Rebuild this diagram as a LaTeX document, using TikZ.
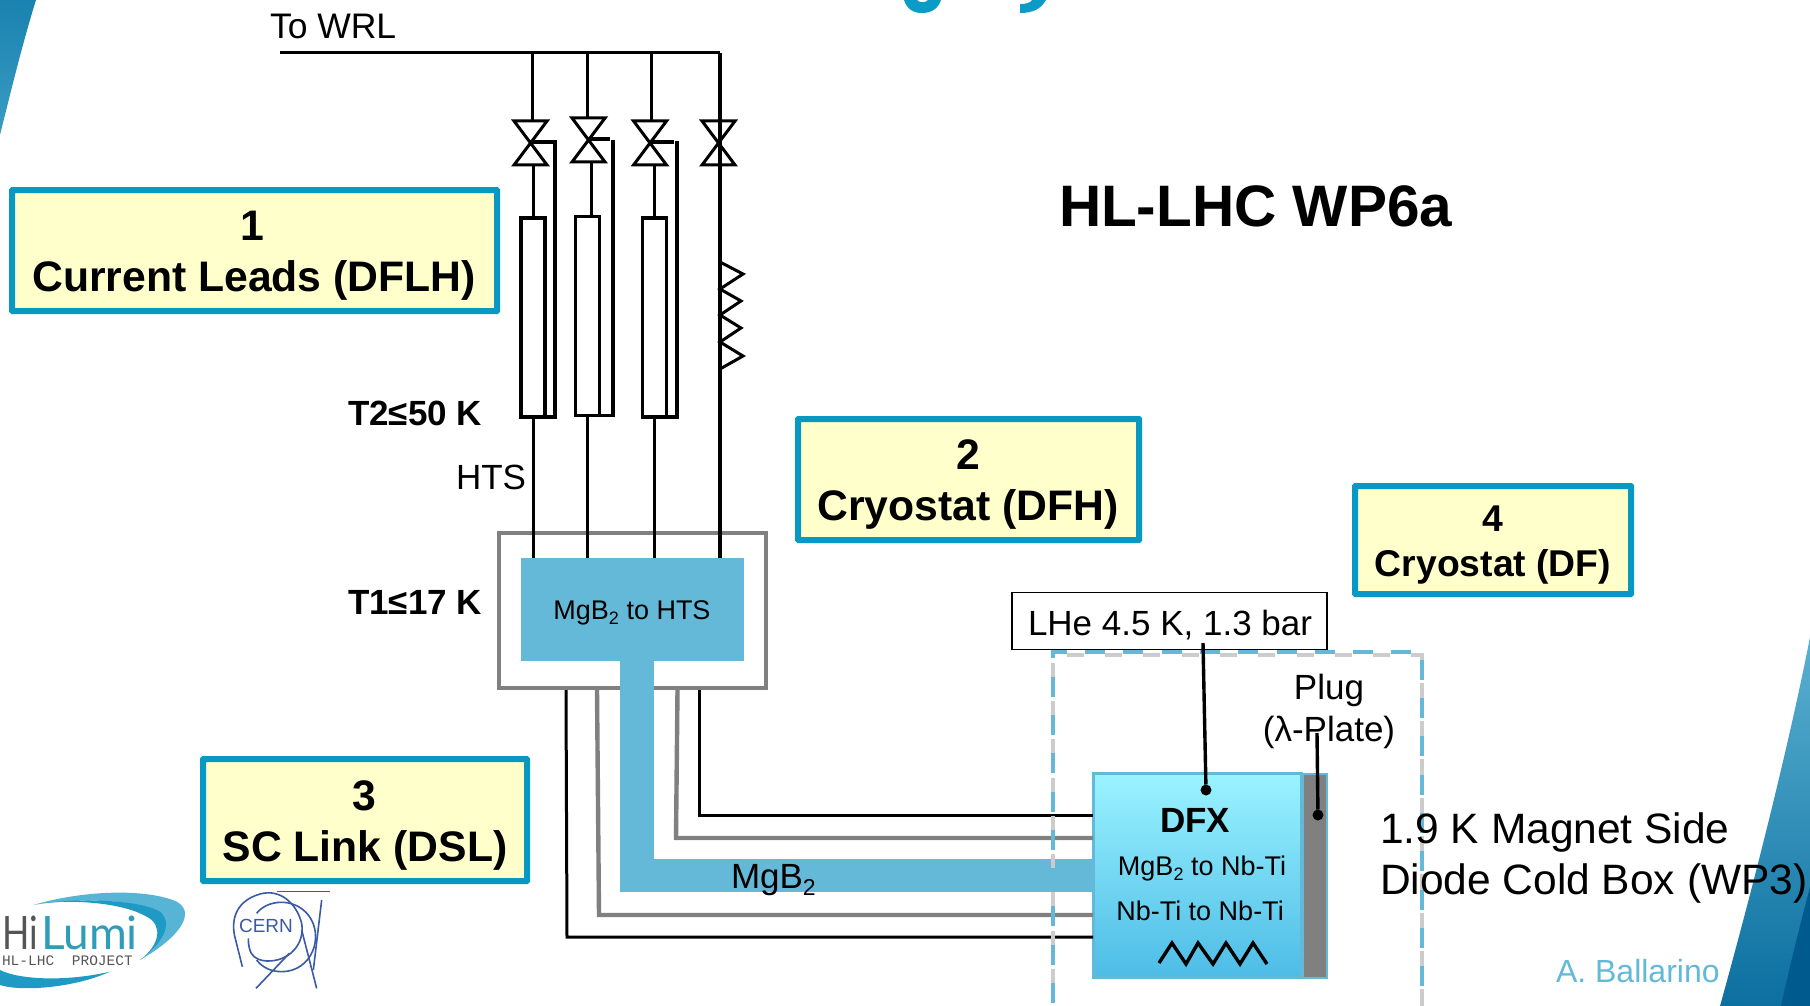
\documentclass[tikz,border=0pt]{standalone}
\usepackage{fontspec}
\setmainfont{Liberation Sans}
\newfontfamily\logofont{Lato}
\newfontfamily\logomono{Liberation Mono}
\newcommand\fs[1]{\fontsize{#1}{#1}\selectfont}
\newcommand\subtwo[1]{\raisebox{-0.2em}{\fontsize{#1}{#1}\selectfont 2}}
\definecolor{frameblue}{HTML}{0798C3}
\definecolor{paleyellow}{HTML}{FFFFCC}
\definecolor{band}{HTML}{64B9D8}
\definecolor{greyline}{HTML}{808080}
\definecolor{cernblue}{HTML}{3A5AA8}
\definecolor{titleblue}{HTML}{0A9CC6}
\definecolor{cornerA}{HTML}{1A82B0}
\definecolor{cornerB}{HTML}{3A9CC3}
\definecolor{cornerC}{HTML}{5AB0D0}
\definecolor{cornerD}{HTML}{0B6FA0}
\definecolor{cornerF}{HTML}{005A8E}
\definecolor{dfxtop}{HTML}{9AF3FF}
\definecolor{dfxbottom}{HTML}{4DBCE6}
\definecolor{swooshlight}{HTML}{58B4D4}
\definecolor{swooshdark}{HTML}{1E9AC4}
\definecolor{lumiteal}{HTML}{2F9DB8}
\definecolor{hidark}{HTML}{555555}
\tikzset{
  x=1pt,y=-1pt,
  every node/.style={inner sep=0pt,outer sep=0pt},
  yellowbox/.style={draw=frameblue,line width=6pt,fill=paleyellow,rounded corners=0.5pt},
  lab/.style={anchor=base,text=black},
  labw/.style={anchor=base west,text=black},
  valvebox/.style={minimum width=33pt,minimum height=44pt},
  valveline/.style={line width=3pt,line join=miter},
  pipe/.style={line width=3pt},
  mainpipe/.style={line width=3.8pt},
  tube/.style={draw=black,line width=3.4pt,fill=white,minimum width=24pt,minimum height=199pt},
  sideline/.style={line width=3.2pt},
  blackrun/.style={line width=3pt,line join=miter},
  greyrun/.style={draw=greyline,line width=4.4pt,line join=miter},
  dotline/.style={line width=3.4pt},
  dotnode/.style={circle,fill=black,minimum size=11pt},
  dashblue/.style={draw=band,line width=4pt,dash pattern=on 20pt off 18.3pt},
  dashshadow/.style={draw=black!20,line width=4pt,dash pattern=on 17pt off 21.3pt,dash phase=-20pt},
}
\begin{document}
\begin{tikzpicture}
\useasboundingbox (0,0) rectangle (1810,1006);
\fill[white] (0,0) rectangle (1810,1006);

% slide corners
\shade[top color=cornerA,bottom color=cornerB] (0,0) -- (36,0) .. controls (22,45) and (10,95) .. (0,135) -- cycle;
\shade[top color=cornerC,bottom color=cornerD] (1810,637) .. controls (1790,740) and (1755,880) .. (1720,1006) -- (1810,1006) -- cycle;
\fill[cornerF] (1810,887) .. controls (1800,925) and (1790,965) .. (1781,1006) -- (1810,1006) -- cycle;

% title descenders cut by the picture's edge
\fill[titleblue] (904,0) -- (917,0) .. controls (919,3) and (926,3) .. (928,0) -- (941,0) .. controls (938,9) and (931,13) .. (922,13) .. controls (913,13) and (907,9) .. (904,0) -- cycle;
\fill[titleblue] (1032,0) -- (1046,0) .. controls (1041,9) and (1033,13) .. (1020,13) -- (1020,4) .. controls (1026,4) and (1030,3) .. (1032,0) -- cycle;

% top header and valves
\coordinate (hdrL) at (280,53);
\coordinate (hdrR) at (720,53);
\coordinate (t1) at (532,53);
\coordinate (t2) at (587,53);
\coordinate (t3) at (651,53);
\node[valvebox] (v1) at (530.5,143) {};
\node[valvebox] (v2) at (588.5,140) {};
\node[valvebox] (v3) at (650,143) {};
\node[valvebox] (v4) at (718.5,143) {};
\node[tube] (tube1) at (533,317.5) {};
\node[tube] (tube2) at (587.5,316) {};
\node[tube] (tube3) at (654.5,317.5) {};

% blocks
\node[draw=greyline,line width=4.4pt,minimum width=267pt,minimum height=155pt] (outer) at (632.5,610.5) {};
\node[fill=band,minimum width=223pt,minimum height=103pt] (join) at (632,609.5) {};

% pipes
\draw[pipe] (hdrL) -- (hdrR);
\draw[pipe] (t1) -- (t1 |- v1.north);
\draw[pipe] (t2) -- (t2 |- v2.north);
\draw[pipe] (t3) -- (t3 |- v3.north);
\foreach \v in {v1,v2,v3,v4}
  \draw[valveline] (\v.north west) -- (\v.north east) -- (\v.south west) -- (\v.south east) -- cycle;
\draw[mainpipe] (hdrR) -- (hdrR |- join.north);
\draw[pipe] (tube1.north) -- (tube1.north |- v1.south);
\draw[pipe] ([xshift=3.5pt]tube2.north) -- ([xshift=3.5pt]tube2.north |- v2.south);
\draw[pipe] (tube3.north) -- (tube3.north |- v3.south);
\draw[sideline] (532,142) -| (555,417) -- (tube1.south east);
\draw[sideline] (588,139) -- (610,139);
\draw[sideline] (613,140) |- (tube2.south east);
\draw[sideline] (650,142) -- (674,142);
\draw[sideline] (677,141) |- (tube3.south east);
\draw[pipe] (tube1.south) -- (tube1.south |- join.north);
\draw[pipe] (tube2.south) -- (tube2.south |- join.north);
\draw[pipe] (tube3.south) -- (tube3.south |- join.north);
% heater on the fourth line
\draw[valveline] (hdrR |- 0,262) -- (743,274) -- (720,289) -- (741,301) -- (720,315) -- (741,328) -- (720,342) -- (743,356) -- (720,369);

% DFX
\node[draw=band,line width=3pt,top color=dfxtop,bottom color=dfxbottom,minimum width=208pt,minimum height=204pt] (dfx) at (1197,875.5) {};
\node[draw=band,line width=2pt,fill=greyline,minimum width=24pt,minimum height=204pt] (plug) at (1315,875.5) {};

% links between the blocks
\draw[blackrun] (566,690) -- (567,937) -- (dfx.west |- 0,937);
\draw[greyrun] (597,690) -- (599,915) -- (dfx.west |- 0,915);
\draw[greyrun] (677.5,690) -- (676,838) -- (dfx.west |- 0,838);
\draw[blackrun] (699,690) -- (699,815) -- (dfx.west |- 0,815);
\node[fill=band,minimum width=34pt,minimum height=231pt] (bar) at (637,776.5) {};
\node[fill=band,minimum width=472pt,minimum height=33pt] (barh) at (856,875.5) {};

% dashed cold-box outline
\draw[dashshadow,yshift=-3pt] (1053,1003) -- (1053,652) -- (1422,652) -- (1422,1003);
\draw[dashblue] (1053,1003) -- (1053,652) -- (1422,652) -- (1422,1003);

% LHe and plug
\node[draw=black,line width=1.8pt,fill=white,minimum width=315pt,minimum height=57pt] (lhe) at (1169.5,621) {};
\node[labw] (lhetxt) at (1028,635) {\fs{35}LHe 4.5 K, 1.3 bar};
\node[lab] (plugtxt) at (1329,699) {\fs{35}Plug};
\node[lab] (plateb) at (1329,741) {\fs{35}(λ-Plate)};
\node[dotnode] (dfxdot) at (1206,790) {};
\node[dotnode] (plugdot) at (1318,815) {};
\coordinate (lheend) at (1203,643);
\coordinate (plateend) at (1317,733);
\draw[dotline] (lheend) -- (dfxdot);
\draw[dotline] (plateend) -- (plugdot);
\draw[line width=3.4pt,line join=miter] (1159,963) -- (1172,943) -- (1186,964) -- (1198,943) -- (1213,964) -- (1226,943) -- (1240,964) -- (1253,943) -- (1267,964);

% yellow boxes
\node[yellowbox,minimum width=485pt,minimum height=121pt] (b1) at (254.5,250.5) {};
\node[lab] at (252,240) {\fs{42.7}\bfseries 1};
\node[lab] at (254,291) {\fs{42.7}\bfseries Current Leads (DFLH)};
\node[yellowbox,minimum width=341pt,minimum height=121pt] (b2) at (968.5,479.5) {};
\node[lab] at (968,469) {\fs{42.7}\bfseries 2};
\node[lab] at (968,520) {\fs{42.7}\bfseries Cryostat (DFH)};
\node[yellowbox,minimum width=324pt,minimum height=122pt] (b3) at (365,820) {};
\node[lab] at (364,810) {\fs{42.7}\bfseries 3};
\node[lab] at (365,861) {\fs{42.7}\bfseries SC Link (DSL)};
\node[yellowbox,minimum width=276pt,minimum height=108pt] (b4) at (1493,540) {};
\node[lab] at (1493,531) {\fs{37.3}\bfseries 4};
\node[lab] at (1493,576) {\fs{37.3}\bfseries Cryostat (DF)};

% other texts
\node[labw] at (270,39) {\fs{35.5}To WRL};
\node[labw] at (1059,226) {\fs{58.5}\bfseries HL-LHC WP6a};
\node[labw] at (348,425) {\fs{35}\bfseries T2≤50 K};
\node[labw] at (348,614) {\fs{35}\bfseries T1≤17 K};
\node[labw] at (456,489) {\fs{35}HTS};
\node[lab] at (join |- 0,619) {\fs{27}MgB\subtwo{18} to HTS};
\node[labw] at (731,888) {\fs{35}MgB\subtwo{23}};
\node[lab] at (1195,832) {\fs{35}\bfseries DFX};
\node[lab] at (1202,875) {\fs{27}MgB\subtwo{18} to Nb-Ti};
\node[lab] at (1200,920) {\fs{27}Nb-Ti to Nb-Ti};
\node[labw] at (1380,843) {\fs{42.5}1.9 K Magnet Side};
\node[labw] at (1380,894) {\fs{42.5}Diode Cold Box (WP3)};
\node[labw,text=band] at (1556,982) {\fs{32}A. Ballarino};

% HiLumi logo
\begin{scope}[shift={(0,860)},scale=1/3]
  \fill[swooshlight] (100,135) .. controls (250,90) and (440,85) .. (530,125) .. controls (585,155) and (550,225) .. (420,300) .. controls (490,250) and (520,190) .. (470,155) .. controls (400,115) and (220,115) .. (100,135) -- cycle;
  \fill[swooshdark] (140,128) .. controls (260,115) and (420,120) .. (480,155) .. controls (520,190) and (490,250) .. (420,300) .. controls (480,255) and (490,195) .. (440,170) .. controls (370,130) and (240,120) .. (140,128) -- cycle;
  \fill[swooshdark] (0,330) .. controls (60,360) and (200,365) .. (330,335) .. controls (220,385) and (60,395) .. (0,375) -- cycle;
\end{scope}
\node[anchor=base west] (hilumi) at (2,949) {\rlap{\raisebox{-16pt}{\color{hidark}\logomono\fs{14.5}HL-LHC\hspace{9pt} PROJECT}}\logofont\fs{46}\makebox[39pt][l]{\color{hidark}\scalebox{0.78}[1]{Hi}}{\color{lumiteal}Lumi}};

% CERN logo
\begin{scope}[shift={(0,860)},scale=1/3,draw=cernblue,line width=1.6pt]
  \draw (745,235) .. controls (745,255) and (748,270) .. (755,282);
  \draw (707,240) .. controls (692,190) and (700,125) .. (780,102) .. controls (840,85) and (890,130) .. (905,190) .. controls (915,250) and (870,305) .. (800,303) .. controls (780,302) and (765,295) .. (755,282);
  \draw (770,160) .. controls (800,120) and (880,110) .. (925,165) .. controls (975,230) and (935,335) .. (845,335) .. controls (810,335) and (785,320) .. (770,300);
  \draw (830,95) -- (990,95);
  \draw (965,120) -- (940,330);
  \draw (905,210) -- (950,385);
  \draw (868,280) -- (768,385);
  \draw (707,240) -- (727,320);
\end{scope}
\node[text=cernblue] (cern) at (266,926) {\fs{19}CERN};
\end{tikzpicture}
\end{document}
